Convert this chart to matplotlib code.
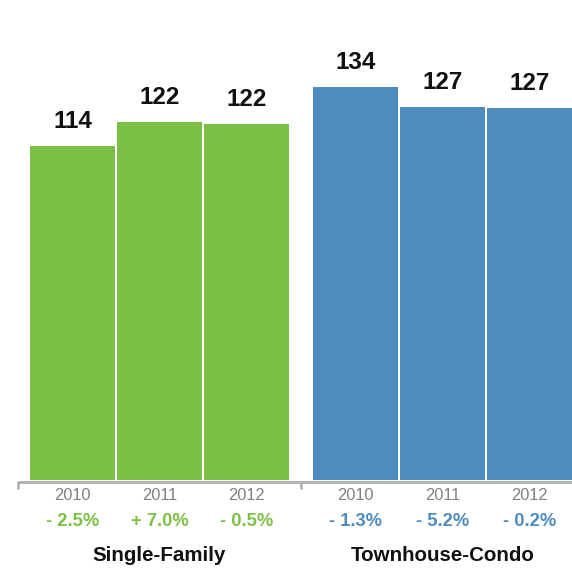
import matplotlib.pyplot as plt
import numpy as np
from matplotlib.transforms import blended_transform_factory

plt.rcParams['font.family'] = ['Liberation Sans', 'DejaVu Sans']

groups = ['Single-Family', 'Townhouse-Condo']
years = ['2010', '2011', '2012']
single_family = [114.0, 122.3, 121.6]
townhouse_condo = [134.2, 127.3, 127.0]
value_labels = [['114', '122', '122'], ['134', '127', '127']]
pct_changes = [['- 2.5%', '+ 7.0%', '- 0.5%'], ['- 1.3%', '- 5.2%', '- 0.2%']]

green = '#7cc043'
blue = '#4e8bbf'
colors = [green, blue]

W, H = 572, 568
fig = plt.figure(figsize=(W / 100, H / 100), dpi=100)
base_px = 480
ax = fig.add_axes([0, (H - base_px) / H, 1, base_px / H])
px_per_unit = 2.93
ax.set_ylim(0, base_px / px_per_unit)

step = 87.0           # px per bar slot
first_center = 72.5   # px
group_offset = 283 / step
ax.set_xlim(-first_center / step, (W - first_center) / step)
ax.axis('off')

trans = blended_transform_factory(ax.transData, fig.transFigure)

def fy(px):
    return 1 - px / H

for g, vals in enumerate([single_family, townhouse_condo]):
    x = np.arange(len(vals)) + g * group_offset
    ax.bar(x, vals, width=85 / step, color=colors[g], linewidth=0)
    for xi, v, lab in zip(x, vals, value_labels[g]):
        ax.annotate(lab, (xi, v), xytext=(0, 12.8), textcoords='offset points',
                    ha='center', va='baseline', fontsize=17.5, fontweight='bold',
                    color='#111111')
    for xi, yr, pc in zip(x, years, pct_changes[g]):
        ax.text(xi, fy(500), yr, transform=trans, ha='center', va='baseline',
                fontsize=11.8, color='#808080')
        ax.text(xi, fy(526.5), pc, transform=trans, ha='center', va='baseline',
                fontsize=13.2, fontweight='bold', color=colors[g])
    ax.text(x[1], fy(561), groups[g], transform=trans, ha='center', va='baseline',
            fontsize=14.8, fontweight='bold', color='#111111')
    # tick mark at the left of each group
    tick_x = x[0] - (85 / step) / 2 - 12 / step
    ax.plot([tick_x, tick_x], [fy(481), fy(488.5)], transform=trans,
            color='#b3b3b3', lw=2, clip_on=False, solid_capstyle='butt')

# baseline axis
ax.plot([-first_center / step + 18 / step, (W - first_center) / step],
        [fy(482), fy(482)], transform=trans, color='#b3b3b3', lw=2.2,
        clip_on=False, solid_capstyle='butt')

fig.savefig('out.png', dpi=100)
